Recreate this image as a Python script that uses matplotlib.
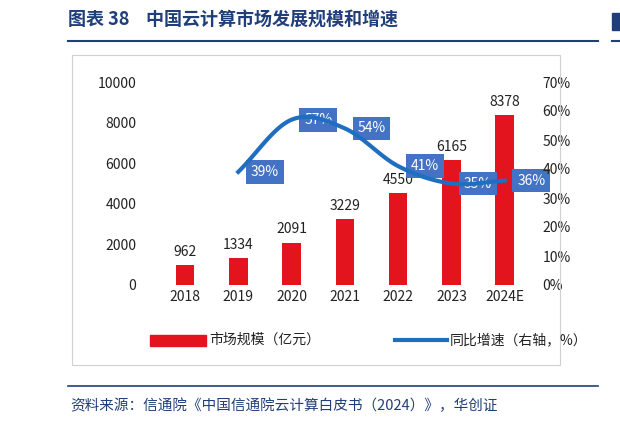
import matplotlib
matplotlib.use("Agg")
import matplotlib.pyplot as plt
import numpy as np
from matplotlib.patches import Rectangle
from matplotlib.lines import Line2D

plt.rcParams['font.family'] = ['Noto Sans CJK SC', 'DejaVu Sans']

years = ['2018', '2019', '2020', '2021', '2022', '2023', '2024E']
market = [962, 1334, 2091, 3229, 4550, 6165, 8378]
growth_years = ['2019', '2020', '2021', '2022', '2023', '2024E']
growth = [39, 57, 54, 41, 35, 36]

RED = '#E3141E'
BLUE = '#1F6FC0'
BOX = '#4472C4'
NAVY = '#1F3E7A'

fig = plt.figure(figsize=(6.2, 4.26), dpi=100)
W, H = 620, 426
def fx(x): return x / W
def fy(y): return 1 - y / H

fig.text(fx(68), fy(20), '图表 38    中国云计算市场发展规模和增速', fontsize=13, fontweight='bold',
         color=NAVY, va='center', ha='left')
fig.add_artist(Line2D([fx(68), fx(598)], [fy(41), fy(41)], color=NAVY, lw=1.5))
fig.add_artist(Rectangle((fx(612), fy(30)), fx(8), 0.04, color=NAVY))
fig.add_artist(Line2D([fx(612), fx(620)], [fy(41), fy(41)], color=NAVY, lw=1.5))
fig.add_artist(Rectangle((fx(72), fy(365)), fx(488), fy(55) - fy(365), fill=False,
                         ec='#D0D0D0', lw=0.8))
fig.add_artist(Line2D([fx(68), fx(598)], [fy(386), fy(386)], color=NAVY, lw=1.2))
fig.text(fx(70), fy(406), '资料来源：信通院《中国信通院云计算白皮书（2024）》，华创证', fontsize=10.5,
         style='italic', color=NAVY, va='center', ha='left')

ax = fig.add_axes([fx(153), fy(285), fx(373), fy(82) - fy(285)])
x = np.arange(len(years))
ax.bar(x, market, width=0.35, color=RED)
for xi, v in zip(x, market):
    ax.text(xi, v + 300, str(v), ha='center', va='bottom', fontsize=10, color='#222')
ax.set_ylim(0, 10000)
ax.set_xlim(-0.6, 6.4)
ax.set_yticks(range(0, 10001, 2000))
ax.set_xticks(x)
ax.set_xticklabels(years)
for s in ax.spines.values():
    s.set_visible(False)
ax.tick_params(length=0, labelsize=10, colors='#222')
ax.tick_params(axis='y', pad=12)

ax2 = ax.twinx()
gx = np.array([years.index(g) for g in growth_years], dtype=float)
gy = np.array(growth, dtype=float)
px, py = [], []
P = np.column_stack([gx, gy])
Pe = np.vstack([P[0] * 2 - P[1], P, P[-1] * 2 - P[-2]])
for i in range(1, len(Pe) - 2):
    p0, p1, p2, p3 = Pe[i - 1], Pe[i], Pe[i + 1], Pe[i + 2]
    for t in np.linspace(0, 1, 20):
        c = 0.5 * ((2 * p1) + (-p0 + p2) * t + (2 * p0 - 5 * p1 + 4 * p2 - p3) * t ** 2
                   + (-p0 + 3 * p1 - 3 * p2 + p3) * t ** 3)
        px.append(c[0]); py.append(c[1])
ax2.plot(px, py, color=BLUE, lw=3)
for xi, v in zip(gx, gy):
    ax2.text(xi + 0.5, v, f'{int(v)}%', ha='center', va='center', fontsize=10, color='white',
             bbox=dict(boxstyle='square,pad=0.35', fc=BOX, ec='none'), zorder=1)
ax2.set_ylim(0, 70)
ax2.set_yticks(range(0, 71, 10))
ax2.set_yticklabels([f'{v}%' for v in range(0, 71, 10)])
for s in ax2.spines.values():
    s.set_visible(False)
ax2.tick_params(length=0, labelsize=10, colors='#222', pad=12)

fig.add_artist(Rectangle((fx(150), fy(346)), fx(56), fy(335) - fy(346), color=RED))
fig.text(fx(209), fy(340), '市场规模（亿元）', fontsize=10, va='center', color='#222')
fig.add_artist(Line2D([fx(395), fx(447)], [fy(340), fy(340)], color=BLUE, lw=3))
fig.text(fx(450), fy(340), '同比增速（右轴，%）', fontsize=10, va='center', color='#222')

fig.savefig('out.png', dpi=100)
